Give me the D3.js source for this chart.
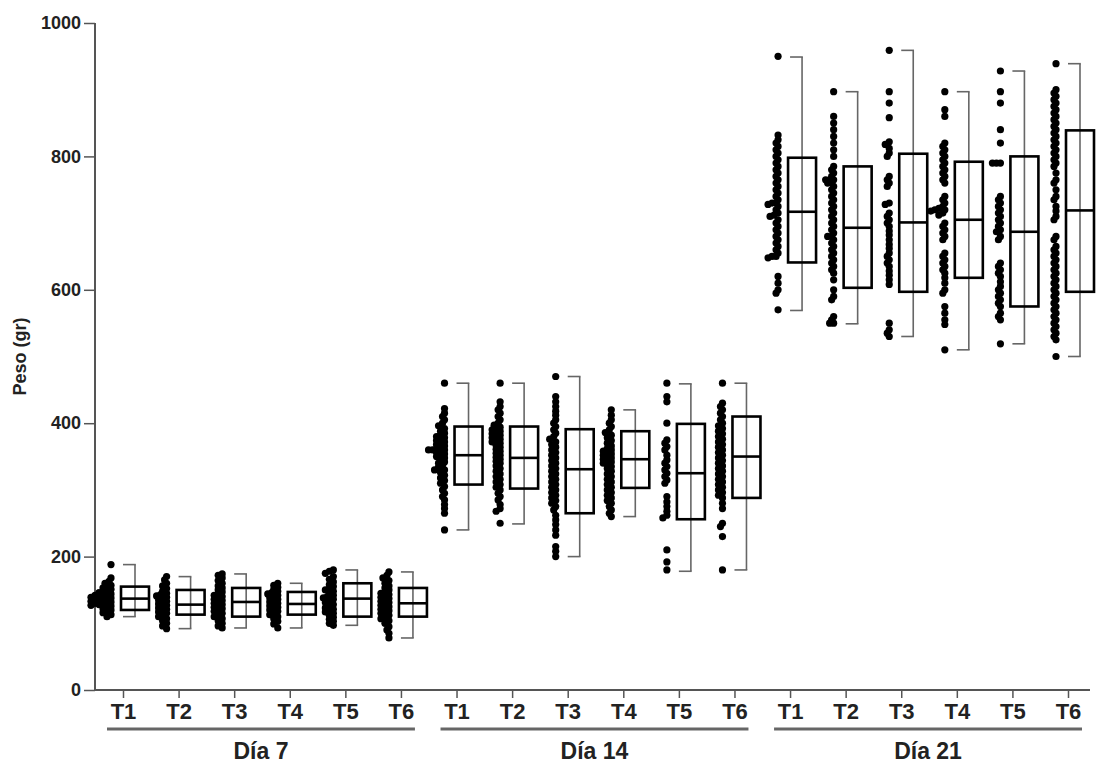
<!DOCTYPE html>
<html>
<head>
<meta charset="utf-8">
<script src="https://cdn.jsdelivr.net/npm/d3@7"></script>
<style>
  body { margin: 0; background: #fff; }
  text { font-family: "Liberation Sans", Arial, sans-serif; font-weight: bold; fill: #222; }
  .narrow { font-family: "Liberation Sans Narrow", "Liberation Sans", Arial, sans-serif; }
</style>
</head>
<body>
<script>
const treatments = ["T1", "T2", "T3", "T4", "T5", "T6"];
const days = ["Día 7", "Día 14", "Día 21"];
const yTicks = [0, 200, 400, 600, 800, 1000];

// box stats per day, one value per treatment
const boxMin = [[110, 92, 93, 93, 97, 78], [240, 249, 200, 260, 178, 180], [569, 549, 530, 510, 519, 500]];
const boxQ1 = [[120, 113, 110, 113, 110, 110], [308, 302, 265, 303, 256, 288], [641, 603, 597, 618, 575, 597]];
const boxMed = [[137, 128, 132, 129, 137, 130], [352, 348, 331, 346, 325, 350], [717, 693, 701, 705, 687, 719]];
const boxQ3 = [[155, 150, 153, 147, 160, 153], [395, 395, 391, 388, 399, 410], [798, 785, 804, 792, 800, 839]];
const boxMax = [[188, 170, 174, 160, 180, 177], [460, 460, 470, 420, 459, 460], [949, 897, 959, 897, 928, 939]];

// individual weights
const dia7 = [
  [188, 168, 163, 160, 157, 155, 153, 151, 149, 147, 146, 144, 143, 142, 141, 140, 139, 138, 137, 136, 135, 134, 133, 132, 131, 130, 129, 128, 127, 126, 124, 122, 120, 118, 116, 113, 110],
  [170, 165, 160, 156, 152, 148, 145, 143, 141, 139, 137, 135, 133, 131, 129, 127, 125, 123, 121, 119, 117, 115, 113, 110, 107, 104, 100, 96, 92],
  [174, 172, 168, 164, 160, 156, 153, 150, 147, 144, 142, 140, 138, 136, 134, 132, 130, 128, 126, 124, 122, 120, 118, 115, 112, 110, 107, 104, 100, 96, 93],
  [160, 157, 154, 151, 148, 146, 144, 142, 140, 138, 136, 134, 132, 130, 128, 126, 124, 122, 120, 118, 116, 113, 110, 107, 103, 99, 93],
  [180, 178, 175, 170, 166, 162, 158, 155, 152, 150, 148, 145, 142, 140, 138, 136, 134, 131, 128, 125, 123, 121, 119, 117, 115, 112, 109, 106, 103, 100, 97],
  [177, 172, 168, 164, 160, 156, 153, 150, 147, 145, 143, 141, 139, 137, 135, 133, 131, 129, 127, 125, 123, 121, 119, 117, 115, 112, 110, 107, 104, 100, 95, 90, 85, 78]
];
const dia14 = [
  [460, 422, 415, 410, 405, 400, 396, 392, 388, 385, 382, 380, 378, 376, 374, 372, 370, 368, 366, 364, 362, 360, 360, 360, 358, 356, 354, 352, 350, 348, 345, 342, 340, 337, 334, 330, 330, 326, 322, 318, 314, 310, 305, 300, 295, 290, 285, 278, 272, 265, 240],
  [460, 432, 425, 420, 415, 410, 405, 400, 397, 394, 392, 390, 388, 386, 384, 382, 380, 378, 376, 374, 372, 370, 367, 364, 361, 358, 355, 352, 349, 346, 343, 340, 336, 332, 328, 324, 320, 316, 312, 308, 304, 300, 295, 290, 285, 278, 272, 268, 250],
  [470, 440, 432, 425, 418, 412, 405, 400, 395, 390, 385, 380, 376, 372, 368, 364, 360, 356, 352, 348, 344, 340, 336, 332, 328, 324, 320, 316, 312, 308, 304, 300, 296, 292, 288, 284, 280, 275, 270, 262, 255, 248, 240, 232, 215, 208, 200],
  [420, 412, 405, 400, 395, 390, 386, 382, 378, 374, 370, 366, 362, 360, 358, 356, 354, 352, 350, 348, 346, 344, 342, 340, 338, 335, 332, 328, 324, 320, 316, 312, 308, 304, 300, 296, 292, 288, 284, 280, 275, 270, 265, 260],
  [460, 440, 432, 400, 375, 370, 365, 360, 352, 345, 340, 335, 330, 325, 320, 315, 310, 290, 282, 275, 268, 262, 258, 210, 192, 180],
  [460, 430, 425, 420, 415, 410, 405, 400, 396, 392, 388, 384, 380, 376, 372, 368, 364, 360, 356, 352, 348, 344, 340, 336, 332, 328, 324, 320, 316, 312, 308, 304, 300, 296, 292, 288, 280, 272, 250, 245, 230, 180]
];
const dia21 = [
  [950, 832, 825, 820, 815, 810, 805, 800, 795, 790, 785, 780, 775, 770, 765, 760, 755, 750, 745, 740, 735, 730, 730, 728, 725, 720, 715, 712, 710, 705, 700, 695, 690, 685, 680, 675, 670, 665, 660, 655, 650, 650, 648, 620, 610, 600, 595, 570],
  [897, 860, 850, 840, 830, 820, 810, 800, 785, 780, 775, 770, 765, 765, 765, 760, 760, 755, 750, 745, 740, 735, 730, 725, 720, 715, 710, 705, 700, 695, 690, 685, 680, 680, 675, 670, 665, 660, 655, 650, 645, 640, 635, 630, 625, 615, 600, 590, 585, 560, 555, 550, 550],
  [959, 897, 880, 858, 822, 818, 812, 805, 800, 770, 765, 760, 755, 730, 728, 715, 710, 705, 700, 695, 688, 682, 675, 668, 662, 655, 650, 645, 640, 635, 628, 622, 615, 608, 550, 540, 535, 530],
  [897, 870, 860, 820, 815, 810, 805, 800, 795, 790, 785, 780, 775, 770, 765, 760, 740, 735, 730, 725, 722, 720, 720, 718, 715, 712, 700, 695, 690, 685, 680, 675, 655, 650, 645, 640, 635, 630, 625, 618, 610, 600, 595, 575, 565, 555, 548, 510],
  [928, 897, 880, 840, 820, 790, 790, 790, 740, 735, 730, 725, 720, 715, 710, 705, 700, 695, 690, 687, 680, 675, 640, 635, 630, 625, 620, 612, 605, 600, 595, 590, 585, 580, 575, 565, 560, 555, 519],
  [939, 900, 895, 890, 885, 880, 875, 870, 865, 860, 855, 850, 845, 840, 835, 830, 825, 820, 815, 810, 805, 800, 795, 790, 785, 775, 765, 760, 750, 740, 735, 725, 718, 710, 705, 680, 675, 665, 660, 655, 650, 645, 640, 635, 630, 625, 620, 615, 610, 605, 600, 595, 590, 585, 580, 575, 570, 565, 560, 555, 550, 545, 540, 535, 530, 525, 500]
];
const dots = [dia7, dia14, dia21];

let width = 1097,
    height = 764,
    svg = d3.select("body").append("svg")
            .attr("width", width)
            .attr("height", height);

svg.append("rect").attr("width", width).attr("height", height).attr("fill", "#fff");

// one slot per day/treatment pair
let slots = [];
days.forEach((d, di) => treatments.forEach((t, ti) => slots.push({ key: d + "|" + t, day: di, t: ti })));

let x = d3.scalePoint().domain(slots.map(s => s.key)).range([123, 1068]),
    y = d3.scaleLinear().domain([0, 1000]).range([690, 23]);

// y axis
let yAxis = svg.append("g")
    .attr("transform", "translate(95,0)")
    .call(d3.axisLeft(y).tickValues(yTicks).tickFormat(d3.format("d")).tickSize(11).tickPadding(3));
yAxis.select(".domain").attr("stroke", "#555").attr("stroke-width", 2).attr("d", "M0," + y(1000) + "V" + y(0));
yAxis.selectAll(".tick line").attr("stroke", "#555").attr("stroke-width", 1.5);
yAxis.selectAll("text").style("font-size", "18px").attr("fill", "#222");

// x axis
let xAxis = svg.append("g")
    .attr("transform", "translate(0,690)")
    .call(d3.axisBottom(x).tickSize(8).tickPadding(5).tickFormat(k => k.split("|")[1]));
xAxis.select(".domain").attr("stroke", "#555").attr("stroke-width", 2).attr("d", "M95,0H1090");
xAxis.selectAll(".tick line").attr("stroke", "#555").attr("stroke-width", 1.5);
xAxis.selectAll("text").attr("class", "narrow").style("font-size", "22px").attr("fill", "#222");

// day underlines and labels
days.forEach((d, di) => {
  let x0 = x(d + "|T1") - 16, x1 = x(d + "|T6") + 14;
  svg.append("line")
      .attr("x1", x0).attr("x2", x1)
      .attr("y1", 729).attr("y2", 729)
      .attr("stroke", "#666")
      .attr("stroke-width", 3);
  svg.append("text")
      .attr("x", (x0 + x1) / 2)
      .attr("y", 759)
      .attr("text-anchor", "middle")
      .style("font-size", "23px")
      .text(d);
});

svg.append("text")
    .attr("transform", "translate(26," + y(500) + ") rotate(-90)")
    .attr("text-anchor", "middle")
    .style("font-size", "18px")
    .text("Peso (gr)");

// dots: one-sided swarm spreading left from a base column
let r = 3.6, step = 2, minDist = 3.8;
slots.forEach(s => {
  let base = x(s.key) - 12,
      vals = dots[s.day][s.t].slice().sort((a, b) => b - a),
      placed = [];
  vals.forEach(v => {
    let cy = y(v), k = 0, cx;
    while (true) {
      cx = base - k * step;
      if (!placed.some(p => Math.hypot(p[0] - cx, p[1] - cy) < minDist)) break;
      k++;
    }
    placed.push([cx, cy]);
  });
  svg.append("g").selectAll("circle")
      .data(placed)
    .join("circle")
      .attr("cx", p => p[0])
      .attr("cy", p => p[1])
      .attr("r", r)
      .attr("fill", "#000");
});

// boxes with bracket whiskers
let bw = 28;
slots.forEach(s => {
  let left = x(s.key) - 2,
      mid = left + bw / 2,
      g = svg.append("g");
  g.append("line")
      .attr("x1", mid).attr("x2", mid)
      .attr("y1", y(boxMax[s.day][s.t])).attr("y2", y(boxMin[s.day][s.t]))
      .attr("stroke", "#666").attr("stroke-width", 1.6);
  [boxMax[s.day][s.t], boxMin[s.day][s.t]].forEach(v => {
    g.append("line")
        .attr("x1", left + 2).attr("x2", mid + 0.8)
        .attr("y1", y(v)).attr("y2", y(v))
        .attr("stroke", "#666").attr("stroke-width", 1.6);
  });
  g.append("rect")
      .attr("x", left)
      .attr("y", y(boxQ3[s.day][s.t]))
      .attr("width", bw)
      .attr("height", y(boxQ1[s.day][s.t]) - y(boxQ3[s.day][s.t]))
      .attr("fill", "none")
      .attr("stroke", "#000")
      .attr("stroke-width", 2.6);
  g.append("line")
      .attr("x1", left).attr("x2", left + bw)
      .attr("y1", y(boxMed[s.day][s.t])).attr("y2", y(boxMed[s.day][s.t]))
      .attr("stroke", "#000").attr("stroke-width", 2.6);
});
</script>
</body>
</html>
